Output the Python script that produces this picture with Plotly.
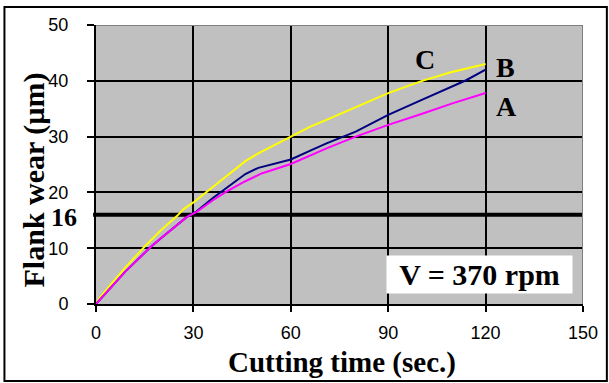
import plotly.graph_objects as go

# ---- data ----
time_c = [0, 1, 5, 9, 15, 20, 25, 27, 30, 36, 40, 46, 50, 60, 66, 71, 80, 90, 100, 109, 120]
wear_c = [0, 1, 3.8, 6.5, 10.3, 13.2, 15.8, 17.0, 18.2, 21.0, 22.8, 25.6, 27.0, 30.0, 31.8, 33.0, 35.3, 37.8, 39.9, 41.5, 43.0]

time_b = [0, 3, 9, 17, 20, 28, 31, 36, 40, 46, 50, 60, 66, 71, 80, 90, 100, 110, 114, 120]
wear_b = [0, 1.9, 5.8, 10.3, 11.8, 15.6, 16.6, 19.0, 20.7, 23.3, 24.4, 25.9, 27.5, 28.8, 30.9, 33.9, 36.5, 39.0, 40.1, 42.0]

time_a = [0, 3, 9, 17, 20, 28, 31, 36, 40, 46, 51, 60, 71, 80, 90, 100, 110, 120]
wear_a = [0, 1.9, 5.8, 10.3, 11.8, 15.6, 16.5, 18.6, 20.1, 22.0, 23.4, 25.1, 27.9, 30.0, 32.1, 34.0, 36.0, 37.8]

x_ticks = [0, 30, 60, 90, 120, 150]
y_ticks = [0, 10, 20, 30, 40, 50]
limit_wear = 16
labels = ["C", "B", "A"]
note = "V = 370 rpm"

SERIF = "Liberation Serif, Times New Roman, serif"
SANS = "Liberation Sans, Arial, sans-serif"

fig = go.Figure()
fig.add_trace(go.Scatter(x=time_c, y=wear_c, mode="lines", line=dict(color="#FFFF00", width=2), name="C"))
fig.add_trace(go.Scatter(x=time_b, y=wear_b, mode="lines", line=dict(color="#000080", width=2), name="B"))
fig.add_trace(go.Scatter(x=time_a, y=wear_a, mode="lines", line=dict(color="#FF00FF", width=2), name="A"))

fig.update_layout(
    width=609, height=383,
    margin=dict(l=96, r=26, t=25, b=79),
    paper_bgcolor="white", plot_bgcolor="#C0C0C0",
    showlegend=False,
    xaxis=dict(range=[0, 150], tickvals=x_ticks, showgrid=True, gridcolor="black", gridwidth=2,
               zeroline=False, showline=True, linecolor="black", linewidth=2,
               ticks="outside", ticklen=6, tickwidth=2, tickcolor="black",
               tickfont=dict(family=SANS, size=18, color="black"), ticklabelstandoff=5),
    yaxis=dict(range=[0, 50], tickvals=y_ticks, showgrid=True, gridcolor="black", gridwidth=2,
               zeroline=False, showline=True, linecolor="black", linewidth=2,
               ticks="outside", ticklen=7, tickwidth=2, tickcolor="black",
               tickfont=dict(family=SANS, size=18, color="black"), ticklabelstandoff=15),
)

# gray plot-area border top/right
fig.add_shape(type="line", xref="x", yref="y", x0=0, x1=150, y0=50, y1=50, line=dict(color="#808080", width=2), layer="above")
fig.add_shape(type="line", xref="x", yref="y", x0=150, x1=150, y0=0, y1=50, line=dict(color="#808080", width=2), layer="above")
# thick limit line at 16
fig.add_shape(type="line", xref="paper", yref="y", x0=-0.006, x1=1, y0=limit_wear, y1=limit_wear,
              line=dict(color="black", width=4), layer="below")
# outer border
fig.add_shape(type="rect", xref="paper", yref="paper", x0=-0.188, x1=1.049, y0=-0.276, y1=1.0645,
              line=dict(color="black", width=2))

# annotations
fig.add_annotation(x=101.4, y=43.8, xref="x", yref="y", text="<b>C</b>", showarrow=False,
                   font=dict(family=SERIF, size=28, color="black"))
fig.add_annotation(x=126.1, y=42.4, xref="x", yref="y", text="<b>B</b>", showarrow=False,
                   font=dict(family=SERIF, size=28, color="black"))
fig.add_annotation(x=126.4, y=35.4, xref="x", yref="y", text="<b>A</b>", showarrow=False,
                   font=dict(family=SERIF, size=28, color="black"))
fig.add_annotation(x=118.1, y=5.2, xref="x", yref="y", text="<b>" + note + "</b>", showarrow=False,
                   font=dict(family=SERIF, size=30, color="black"), bgcolor="white",
                   width=183, height=35)
fig.add_annotation(x=-0.034, y=limit_wear - 0.5, xref="paper", yref="y", xanchor="right", yanchor="middle",
                   text="<b>16</b>", showarrow=False, font=dict(family=SERIF, size=26, color="black"))
fig.add_annotation(x=0.505, y=-0.21, xref="paper", yref="paper", xanchor="center", yanchor="middle",
                   text="<b>Cutting time (sec.)</b>", borderpad=0,
                   showarrow=False, font=dict(family=SERIF, size=29, color="black"))
fig.add_annotation(x=-0.1274, y=0.446, xref="paper", yref="paper", xanchor="center", yanchor="middle",
                   text="<b>Flank wear (µm)</b>",
                   textangle=-90, showarrow=False, font=dict(family=SERIF, size=30, color="black"))

fig.write_html("out.html", config={"displayModeBar": False},
               post_script="document.body.style.margin='0';document.body.style.overflow='hidden';")
